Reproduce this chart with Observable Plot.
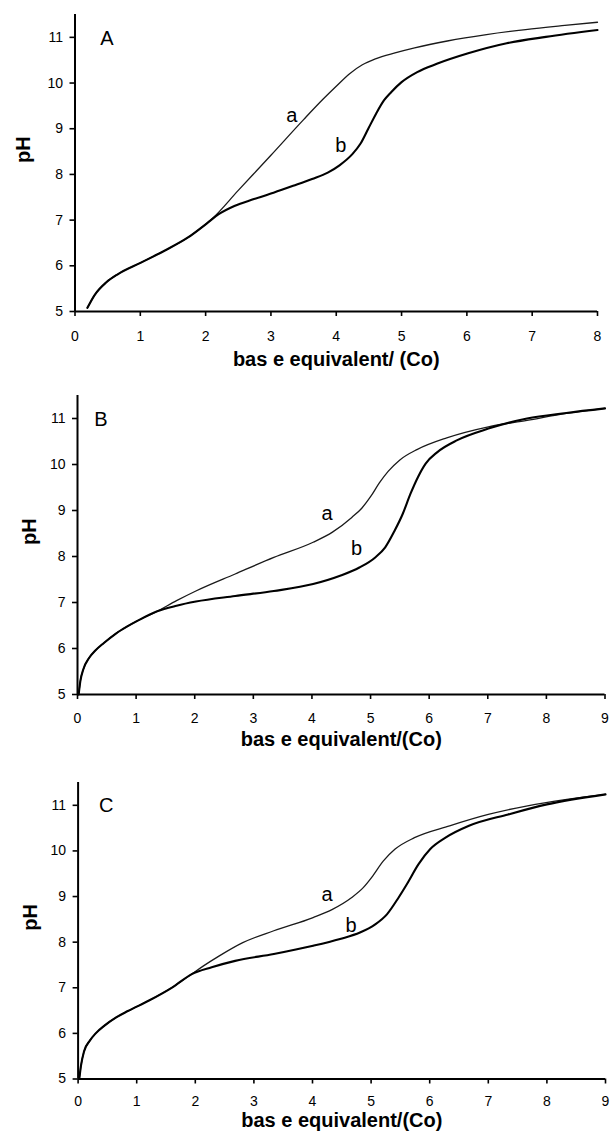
<!DOCTYPE html>
<html><head><meta charset="utf-8">
<script src="https://cdn.jsdelivr.net/npm/d3@7"></script>
<script src="https://cdn.jsdelivr.net/npm/@observablehq/plot@0.6"></script>
<style>
body{margin:0;background:#fff;}
#chart svg{display:block;}
</style></head><body><div id="chart"></div>
<script>
// ---- data ----
const yTicks = [5, 6, 7, 8, 9, 10, 11];
const xTicksA = [0, 1, 2, 3, 4, 5, 6, 7, 8];
const xTicksBC = [0, 1, 2, 3, 4, 5, 6, 7, 8, 9];
const xTitleA = "bas e equivalent/ (Co)";
const xTitleBC = "bas e equivalent/(Co)";
const yTitle = "pH";

// panel A: [base equivalent, pH]
const curveAa = [[0.19,5.08],[0.3,5.36],[0.48,5.64],[0.66,5.82],[1.01,6.07],[1.37,6.33],[1.73,6.62],[2.02,6.93],
  [2.1,7.03],[2.5,7.65],[3.0,8.42],[3.5,9.2],[3.8,9.65],[4.0,9.93],[4.2,10.2],[4.4,10.4],[4.6,10.53],
  [4.9,10.66],[5.2,10.77],[5.7,10.92],[6.3,11.06],[6.9,11.17],[7.5,11.26],[8,11.33]];
const curveAb = [[0.19,5.08],[0.3,5.36],[0.48,5.64],[0.66,5.82],[1.01,6.07],[1.37,6.33],[1.73,6.62],[2.02,6.93],
  [2.2,7.13],[2.44,7.31],[2.74,7.46],[3.04,7.6],[3.34,7.75],[3.63,7.9],[3.87,8.04],[4.05,8.2],[4.25,8.45],
  [4.37,8.67],[4.49,9.0],[4.61,9.33],[4.73,9.62],[4.84,9.8],[5.0,10.02],[5.24,10.24],[5.54,10.42],[6.02,10.65],
  [6.61,10.87],[7.21,11.01],[8,11.16]];

// panel B
const curveBa = [[0.02,5.0],[0.05,5.3],[0.1,5.55],[0.2,5.8],[0.3,5.95],[0.45,6.12],[0.65,6.32],[0.85,6.48],[1.02,6.6],[1.36,6.81],
  [1.69,7.04],[2.02,7.25],[2.69,7.62],[3.35,7.98],[4.02,8.31],[4.35,8.53],[4.68,8.85],[4.85,9.05],[5.0,9.3],
  [5.15,9.6],[5.3,9.85],[5.5,10.1],[5.8,10.33],[6.3,10.58],[7.01,10.82],[7.67,10.96],[8.34,11.11],[9,11.22]];
const curveBb = [[0.02,5.0],[0.05,5.3],[0.1,5.55],[0.2,5.8],[0.3,5.95],[0.45,6.12],[0.65,6.32],[0.85,6.48],[1.02,6.6],[1.36,6.81],
  [1.69,6.93],[2.02,7.02],[2.69,7.14],[3.35,7.25],[4.02,7.4],[4.48,7.58],[4.81,7.76],[5.08,7.98],[5.25,8.2],
  [5.41,8.56],[5.55,8.93],[5.68,9.36],[5.81,9.73],[5.94,10.02],[6.14,10.27],[6.48,10.53],[7.01,10.78],
  [7.67,11.0],[8.34,11.12],[9,11.22]];

// panel C
const curveCa = [[0.02,5.0],[0.05,5.3],[0.1,5.6],[0.2,5.84],[0.3,6.0],[0.45,6.17],[0.65,6.35],[0.85,6.49],[1.21,6.72],[1.61,7.01],[1.94,7.3],
  [2.14,7.48],[2.41,7.7],[2.81,7.99],[3.34,8.25],[4.01,8.54],[4.34,8.72],[4.67,8.98],[4.87,9.2],[5.01,9.42],
  [5.21,9.78],[5.41,10.04],[5.74,10.29],[6.34,10.55],[7.0,10.8],[7.67,10.99],[8.34,11.13],[9,11.24]];
const curveCb = [[0.02,5.0],[0.05,5.3],[0.1,5.6],[0.2,5.84],[0.3,6.0],[0.45,6.17],[0.65,6.35],[0.85,6.49],[1.21,6.72],[1.61,7.01],[1.94,7.3],
  [2.28,7.45],[2.68,7.59],[3.34,7.74],[4.01,7.92],[4.47,8.07],[4.81,8.21],[5.07,8.39],[5.27,8.61],[5.47,8.98],
  [5.61,9.27],[5.81,9.71],[6.01,10.04],[6.27,10.29],[6.67,10.55],[7.34,10.8],[8.0,11.02],[9,11.24]];

// text labels: [label, x, pH]
const panelLabels = [["A",0.49,10.97],["B",0.40,10.98],["C",0.48,11.0]];
const curveLabelsA = [["a",3.32,9.29],["b",4.07,8.63]];
const curveLabelsB = [["a",4.26,8.94],["b",4.76,8.17]];
const curveLabelsC = [["a",4.25,9.05],["b",4.66,8.36]];

// ---- layout ----
const panels = [
  {a: curveAa, b: curveAb, name: panelLabels[0], labels: curveLabelsA, xTicks: xTicksA, xMax: 8, title: xTitleA,
   height: 372, mt: 14, mb: 61, ml: 74.5, mr: 16, tickPad: 15, titleDy: 47.6, yTitleDx: -51},
  {a: curveBa, b: curveBb, name: panelLabels[1], labels: curveLabelsB, xTicks: xTicksBC, xMax: 9, title: xTitleBC,
   height: 380, mt: 23, mb: 58, ml: 77, mr: 8.5, tickPad: 13.6, titleDy: 44.6, yTitleDx: -48},
  {a: curveCa, b: curveCb, name: panelLabels[2], labels: curveLabelsC, xTicks: xTicksBC, xMax: 9, title: xTitleBC,
   height: 385, mt: 30, mb: 58.5, ml: 77.6, mr: 8, tickPad: 11.6, titleDy: 42, yTitleDx: -48}
];

const font = "'Liberation Sans', Arial, sans-serif";
const root = document.getElementById("chart");
for (const p of panels) {
  const chart = Plot.plot({
    width: 613, height: p.height,
    marginTop: p.mt, marginBottom: p.mb, marginLeft: p.ml, marginRight: p.mr,
    style: {fontFamily: font, fontSize: "14px", color: "#000", background: "#fff", overflow: "visible"},
    x: {domain: [0, p.xMax], label: null},
    y: {domain: [5, 11.5], label: null},
    marks: [
      Plot.axisX({ticks: p.xTicks, tickSize: 5, tickPadding: p.tickPad, strokeWidth: 1.6, label: null, fontSize: 14, tickFormat: d => String(d)}),
      Plot.axisY({ticks: yTicks, tickSize: 5, tickPadding: 7, strokeWidth: 1.6, label: null, fontSize: 14, tickFormat: d => String(d)}),
      Plot.ruleY([5], {strokeWidth: 2}),
      Plot.ruleX([0], {strokeWidth: 2}),
      Plot.line(p.a, {x: d => d[0], y: d => d[1], stroke: "#1a1a1a", strokeWidth: 1.3, curve: "monotone-x"}),
      Plot.line(p.b, {x: d => d[0], y: d => d[1], stroke: "#000", strokeWidth: 2.1, curve: "monotone-x"}),
      Plot.text([p.name], {x: d => d[1], y: d => d[2], text: d => d[0], fontSize: 20}),
      Plot.text(p.labels, {x: d => d[1], y: d => d[2], text: d => d[0], fontSize: 20}),
      Plot.text([p.title], {frameAnchor: "bottom", lineAnchor: "middle", dy: p.titleDy, fontWeight: "bold", fontSize: 20}),
      Plot.text([yTitle], {frameAnchor: "left", lineAnchor: "middle", dx: p.yTitleDx, rotate: -90, fontWeight: "bold", fontSize: 20})
    ]
  });
  root.appendChild(chart);
}
</script>
</body></html>
